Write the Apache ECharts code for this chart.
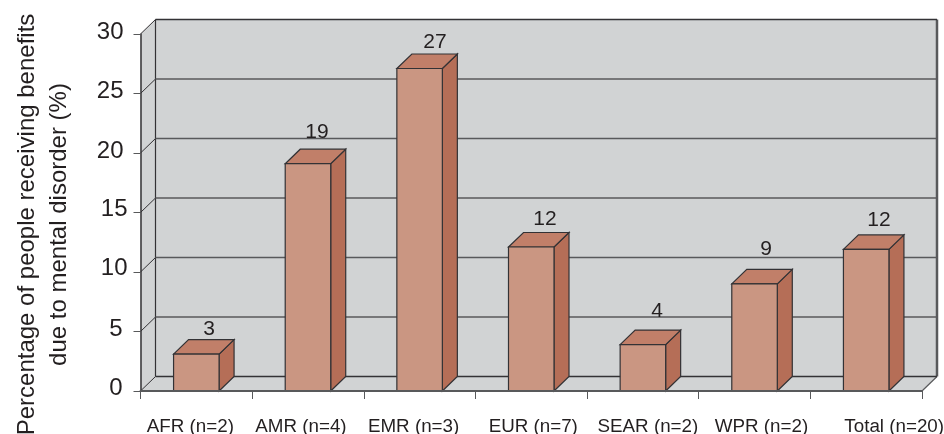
<!DOCTYPE html>
<html>
<head>
<meta charset="utf-8">
<style>html,body{margin:0;padding:0;background:#fff}#c{width:944px;height:434px}</style>
<script src="https://cdn.jsdelivr.net/npm/echarts@6/dist/echarts.min.js"></script>
</head>
<body>
<div id="c"></div>
<script>
var categories = ['AFR (n=2)','AMR (n=4)','EMR (n=3)','EUR (n=7)','SEAR (n=2)','WPR (n=2)','Total (n=20)'];
var barHeights = [3.1,19.1,27.1,12.1,3.9,9,11.9];
var barLabels = ['3','19','27','12','4','9','12'];
var yTicks = [0,5,10,15,20,25,30];
var yTitle = 'Percentage of people receiving benefits\ndue to mental disorder (%)';

// hand-placed text nudges seen in the reference (layout only)
var xLabelShift = [-6,-7,-6,2,5,7,28];
var barLabelDx = [12.7,9,15.4,13.8,14.1,11.5,12.8];
var barLabelRise = [10.6,17.2,12,13.5,19.1,20.4,14.9];
var yLabelUp = {0:3, 5:2, 10:4, 15:3, 20:2, 25:2, 30:2};
var yLabelInset = {0:5, 5:5, 10:0, 15:0, 20:4, 25:4, 30:4};

var DX = 15, DY = 14.5, BAR_W = 45.5;
var TEXT = '#231f20', LINE = '#333235', GRID = '#58595b', WALL = '#d1d3d4';
var FRONT = '#ca9682', SIDE = '#b56e57', TOP = '#c17f69';
var FONT = '"Liberation Sans", Arial, sans-serif';

function poly(points, fill, stroke, w) {
  return {type:'polygon', shape:{points:points}, style:{fill:fill, stroke:stroke||null, lineWidth:w||0}};
}
function line(a, b, color, w) {
  return {type:'line', shape:{x1:a[0],y1:a[1],x2:b[0],y2:b[1]}, style:{stroke:color, lineWidth:w, fill:null}};
}

var rich = {};
categories.forEach(function (c, i) {
  rich['c' + i] = {
    fontFamily: FONT, fontSize: 18.8, color: TEXT,
    padding: [0, xLabelShift[i] < 0 ? -2 * xLabelShift[i] : 0, 0, xLabelShift[i] > 0 ? 2 * xLabelShift[i] : 0]
  };
});
var yRich = {};
yTicks.forEach(function (v) {
  yRich['y' + v] = {
    fontFamily: FONT, fontSize: 24, color: TEXT,
    padding: [0, yLabelInset[v], 2 * yLabelUp[v], 0]
  };
});

var chart = echarts.init(document.getElementById('c'), null, {renderer:'canvas'});
chart.setOption({
  animation: false,
  backgroundColor: '#fff',
  grid: {left:140.5, right:22, top:34, bottom:43, containLabel:false, outerBoundsMode:'none'},
  xAxis: {
    type:'category', data:categories, z:4,
    axisLine:{show:true, lineStyle:{color:GRID, width:2}},
    axisTick:{show:true, length:8, lineStyle:{color:GRID, width:1}},
    axisLabel:{
      interval:0, margin:26, hideOverlap:false,
      formatter:function (v) { return '{c' + categories.indexOf(v) + '|' + v + '}'; },
      rich:rich
    }
  },
  yAxis: {
    type:'value', min:0, max:30, interval:5, z:4,
    name:yTitle, nameLocation:'middle', nameRotate:90, nameGap:65.5,
    nameTextStyle:{fontFamily:FONT, fontSize:24, color:TEXT, lineHeight:32, padding:[0,24,0,0]},
    axisLine:{show:true, lineStyle:{color:LINE, width:1.5}},
    axisTick:{show:true, length:7, lineStyle:{color:GRID, width:1}},
    axisLabel:{
      margin:13,
      formatter:function (v) { return '{y' + v + '|' + v + '}'; },
      rich:yRich
    },
    splitLine:{show:false}
  },
  series: [
    {
      type:'custom', z:1, silent:true, data:[0], clip:false,
      encode:{y:0},
      renderItem:function (params, api) {
        var r = params.coordSys;
        var l = r.x, t = r.y, b = r.y + r.height, R = r.x + r.width;
        return {type:'group', children:[
          poly([[l,t],[l+DX,t-DY],[l+DX,b-DY],[l,b]], WALL),
          poly([[l,b],[l+DX,b-DY],[R+DX,b-DY],[R,b]], WALL),
          poly([[l+DX,t-DY],[R+DX,t-DY],[R+DX,b-DY],[l+DX,b-DY]], WALL),
          line([l+DX,t-DY],[l+DX,b-DY], LINE, 1.2),
          line([R+DX,t-DY],[R+DX,b-DY], GRID, 2.5),
          line([R,b],[R+DX,b-DY], GRID, 1.2)
        ]};
      }
    },
    {
      type:'custom', z:2, silent:true, data:yTicks, clip:false,
      encode:{y:0},
      renderItem:function (params, api) {
        var r = params.coordSys;
        var v = api.value(0);
        var y = api.coord([0, v])[1];
        return {type:'group', children:[
          line([r.x,y],[r.x+DX,y-DY], LINE, 1),
          line([r.x+DX,y-DY],[r.x+r.width+DX,y-DY], v === 30 || v === 0 ? LINE : GRID, v === 30 ? 1.5 : 1.3)
        ]};
      }
    },
    {
      type:'custom', z:3, silent:true, clip:false,
      data:barHeights.map(function (v, i) { return [i, v]; }),
      encode:{x:0,y:1},
      renderItem:function (params, api) {
        var i = params.dataIndex;
        var p = api.coord([api.value(0), api.value(1)]);
        var base = api.coord([api.value(0), 0])[1];
        var l = p[0] - BAR_W / 2, r = p[0] + BAR_W / 2, t = p[1];
        return {type:'group', children:[
          poly([[r,t],[r+DX,t-DY],[r+DX,base-DY],[r,base]], SIDE, LINE, 1.2),
          poly([[l,t],[l+DX,t-DY],[r+DX,t-DY],[r,t]], TOP, LINE, 1.2),
          poly([[l,t],[r,t],[r,base],[l,base]], FRONT, LINE, 1.2),
          {type:'text', style:{
            text:barLabels[i], x:p[0]+barLabelDx[i], y:t-DY-barLabelRise[i],
            textAlign:'center', textVerticalAlign:'middle',
            fontFamily:FONT, fontSize:21, fill:TEXT
          }}
        ]};
      }
    }
  ]
});
</script>
</body>
</html>
